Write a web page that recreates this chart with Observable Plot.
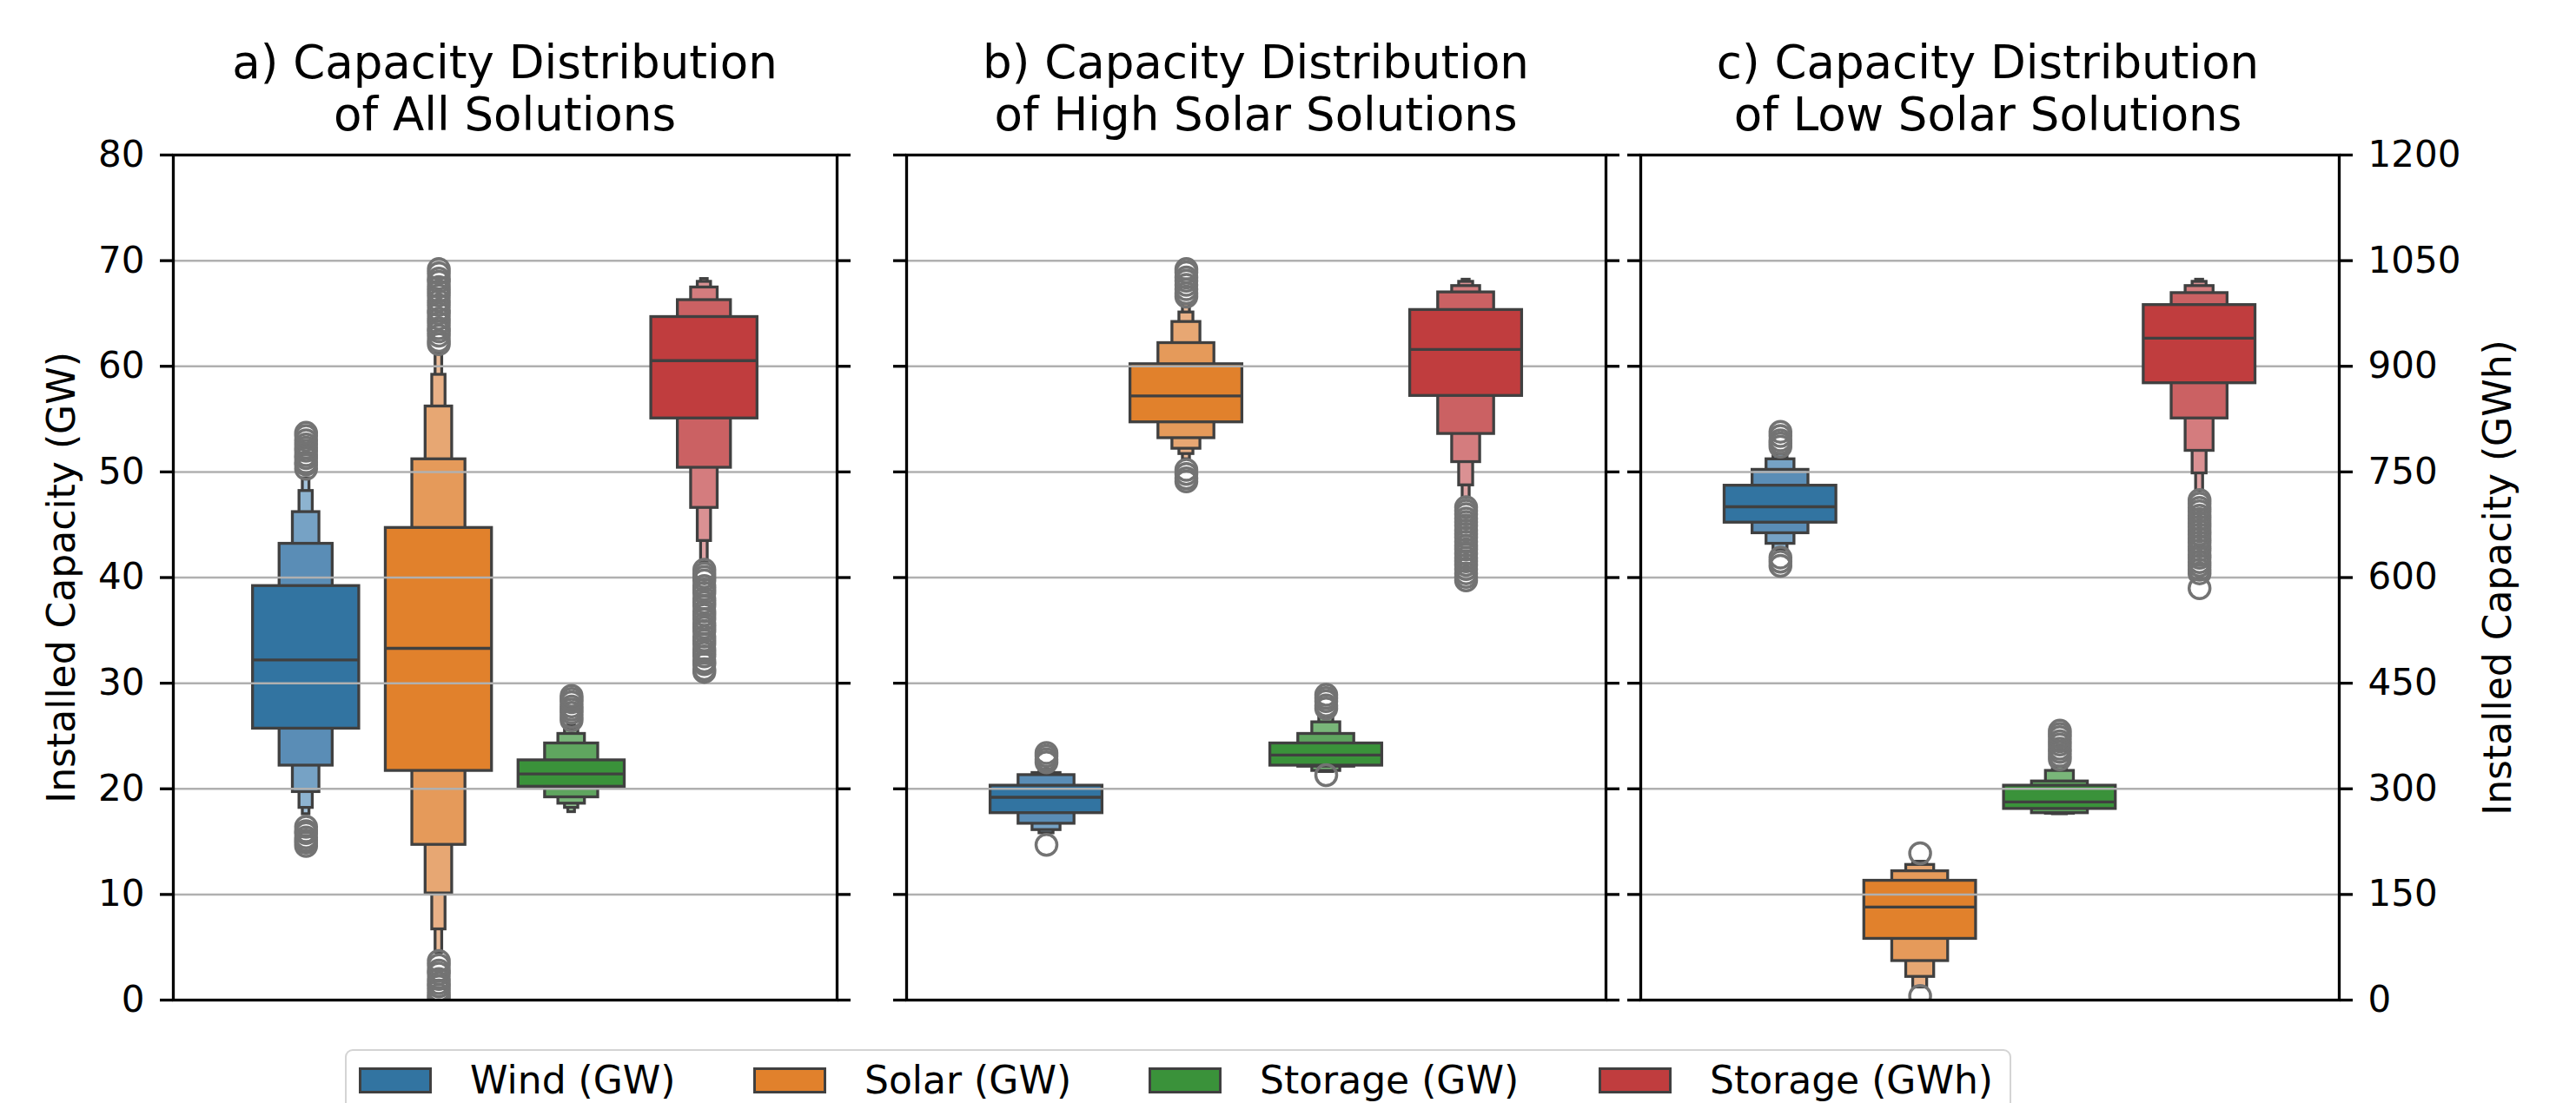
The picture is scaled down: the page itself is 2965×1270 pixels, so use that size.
<!DOCTYPE html>
<html>
<head>
<meta charset="utf-8">
<script src="https://cdn.jsdelivr.net/npm/d3@7"></script>
<script src="https://cdn.jsdelivr.net/npm/@observablehq/plot@0.6"></script>
<style>
  html, body { margin: 0; padding: 0; background: #fff; overflow: hidden; }
  #root { position: relative; width: 2965px; height: 1270px; font-family: "DejaVu Sans", sans-serif; color: #000; }
  .title { position: absolute; top: 42px; font-size: 53px; line-height: 60px; text-align: center; white-space: nowrap; transform: translateX(-50%); }
  .panel { position: absolute; top: 150px; }
  .ylab { position: absolute; font-size: 44px; white-space: nowrap; transform: translate(-50%, -50%) rotate(-90deg); }
  .legend { position: absolute; left: 397px; top: 1208px; width: 1918px; height: 100px; border: 2.5px solid #d4d4d4; border-radius: 9px; box-sizing: border-box; }
  .swatch { position: absolute; top: 1229px; width: 84px; height: 30px; border: 3px solid #404040; box-sizing: border-box; }
  .ltext { position: absolute; top: 1244px; font-size: 44px; line-height: 44px; transform: translateY(-50%); white-space: nowrap; }
</style>
</head>
<body>
<div id="root"></div>
<script>
// ---------- data ----------
const categories = ["Wind (GW)", "Solar (GW)", "Storage (GW)", "Storage (GWh)"];
const panelTitles = [
  ["a) Capacity Distribution", "of All Solutions"],
  ["b) Capacity Distribution", "of High Solar Solutions"],
  ["c) Capacity Distribution", "of Low Solar Solutions"]
];
const gwTicks = [0, 10, 20, 30, 40, 50, 60, 70, 80];
const gwhTicks = [0, 150, 300, 450, 600, 750, 900, 1050, 1200];
const gridTicks = [10, 20, 30, 40, 50, 60, 70];

// Panel a (wind, solar, storage GW in GW; storage GWh in GWh)
const mediansA = [32.2, 33.3, 21.4, 908];
const levelsA = [
  [[25.7, 39.2], [22.2, 43.2], [19.7, 46.2], [18.2, 48.2], [17.6, 49.4]],
  [[21.7, 44.7], [14.7, 51.2], [10.1, 56.2], [6.7, 59.2], [4.5, 61.2]],
  [[20.2, 22.7], [19.2, 24.3], [18.6, 25.2], [18.2, 25.7], [17.8, 26.0]],
  [[826, 970], [756, 994], [699, 1012], [652, 1020], [622, 1024]]
];
const outliersA = [
  [14.6, 14.9, 15.1, 15.4, 15.8, 16.0, 16.4, 50.3, 50.7, 50.9, 51.3, 51.6, 52.0, 52.3, 52.6, 53.0, 53.4, 53.7],
  [0.2, 0.5, 0.9, 1.3, 1.6, 2.0, 2.5, 2.8, 3.3, 3.7, 62.1, 62.4, 62.9, 63.3, 63.6, 64.1, 64.5, 65.0, 65.3, 65.8, 66.2, 66.7, 67.1, 67.5, 68.0, 68.3, 68.8, 69.2],
  [26.5, 26.8, 27.2, 27.5, 27.8, 28.2, 28.5, 28.8],
  [466, 470, 477, 481, 488, 493, 498, 506, 511, 516, 524, 529, 534, 541, 547, 552, 560, 565, 570, 578, 583, 588, 596, 601, 606, 611]
];

// Panel b
const mediansB = [19.2, 57.2, 23.2, 924];
const levelsB = [
  [[17.7, 20.3], [16.7, 21.3], [16.1, 21.5], [15.8, 21.8]],
  [[54.7, 60.2], [53.2, 62.2], [52.2, 64.2], [51.7, 65.1], [51.2, 65.9]],
  [[22.2, 24.3], [22.1, 25.2], [21.7, 26.3], [21.6, 26.8]],
  [[858, 980], [804, 1005], [764, 1014], [731, 1020], [713, 1023]]
];
const outliersB = [
  [14.7, 22.5, 22.8, 23.1, 23.4],
  [49.1, 49.4, 49.8, 50.2, 66.6, 66.9, 67.3, 67.7, 68.1, 68.4, 68.9, 69.2],
  [21.3, 27.6, 27.9, 28.3, 28.6, 28.9],
  [596, 601, 606, 612, 618, 623, 628, 634, 640, 645, 651, 657, 662, 667, 674, 679, 684, 690, 695, 700]
];

// Panel c
const mediansC = [46.7, 8.8, 18.75, 940];
const levelsC = [
  [[45.2, 48.7], [44.2, 50.2], [43.2, 51.2], [42.6, 51.7]],
  [[5.8, 11.3], [3.7, 12.2], [2.2, 12.8], [1.2, 13.1]],
  [[18.1, 20.3], [17.7, 20.7], [17.65, 21.7], [17.6, 22.1]],
  [[876, 987], [826, 1004], [780, 1014], [748, 1020], [723, 1023]]
];
const outliersC = [
  [41.1, 41.5, 41.9, 52.4, 52.7, 53.0, 53.4, 53.8],
  [0.4, 13.9],
  [22.8, 23.1, 23.5, 23.8, 24.2, 24.5, 24.9, 25.2, 25.5],
  [585, 606, 611, 617, 622, 628, 632, 639, 644, 650, 655, 661, 666, 672, 677, 683, 688, 694, 699, 705, 710]
];

// ---------- styles ----------
const mainColors = ["#3274a1", "#e1812c", "#3a923a", "#c03d3e"];
const levelColors = [
  ["#3274a1", "#5a8db6", "#76a2c5", "#8db3d0", "#a3c2da"],
  ["#e1812c", "#e59a5a", "#e7a773", "#e9b187", "#ebbb98"],
  ["#3a923a", "#5fa55f", "#79b679", "#90c290", "#a5cea5"],
  ["#c03d3e", "#cb6163", "#d47c7e", "#da9193", "#e0a4a5"]
];
const GWH_PER_GW = 15;

const root = document.getElementById("root");

function makePanel(cfg) {
  const { levels, medians, outliers, left, width, mL, mR, leftLabels, rightLabels } = cfg;
  const boxes = [];
  levels.forEach((lv, i) => lv.forEach(([lo, hi], k) => boxes.push({ i, k, lo, hi, twin: i === 3 })));
  boxes.sort((a, b) => b.k - a.k);
  const meds = medians.map((m, i) => ({ i, m, twin: i === 3 }));
  const outs = outliers.flatMap((arr, i) => arr.map(v => ({ i, v, twin: i === 3 })));
  const Y = (v, twin) => (twin ? v / GWH_PER_GW : v);
  const half = d => 0.4 * Math.pow(0.5, d.k);

  const boxMarks = f => [
    Plot.rect(boxes.filter(f), {
      x1: d => d.i - half(d), x2: d => d.i + half(d),
      y1: d => Y(d.lo, d.twin), y2: d => Y(d.hi, d.twin),
      fill: d => levelColors[d.i][d.k], stroke: "#404040", strokeWidth: 3.3
    }),
    Plot.ruleY(meds.filter(f), {
      y: d => Y(d.m, d.twin), x1: d => d.i - 0.4, x2: d => d.i + 0.4,
      stroke: "#404040", strokeWidth: 3.3
    })
  ];

  const height = 1030;
  const chart = Plot.plot({
    width, height,
    marginLeft: mL, marginRight: mR, marginTop: 28, marginBottom: 29,
    style: { fontFamily: "DejaVu Sans, sans-serif", fontSize: "42px", background: "transparent", overflow: "visible" },
    x: { domain: [-1, 4], axis: null },
    y: { domain: [0, 80] },
    color: { type: "identity" },
    marks: [
      ...boxMarks(d => !d.twin),
      Plot.gridY({ ticks: gridTicks, stroke: "#b0b0b0", strokeOpacity: 1, strokeWidth: 2.5 }),
      ...boxMarks(d => d.twin),
      Plot.dot(outs, { x: "i", y: d => Y(d.v, d.twin), r: 12, stroke: "#737373", strokeWidth: 3.5, fill: "none", clip: true }),
      Plot.frame({ stroke: "#000", strokeWidth: 3.3 }),
      Plot.axisY({ ticks: gwTicks, anchor: "left", tickSize: 15, tickPadding: 18, strokeWidth: 3.3, fontSize: 42, label: null,
        tickFormat: leftLabels ? d => String(d) : () => "" }),
      Plot.axisY({ ticks: gwhTicks.map(v => v / GWH_PER_GW), anchor: "right", tickSize: 15, tickPadding: 18, strokeWidth: 3.3, fontSize: 42, label: null,
        tickFormat: rightLabels ? d => String(Math.round(d * GWH_PER_GW)) : () => "" })
    ]
  });
  const holder = document.createElement("div");
  holder.className = "panel";
  holder.style.left = left + "px";
  holder.appendChild(chart);
  root.appendChild(holder);
}

makePanel({ levels: levelsA, medians: mediansA, outliers: outliersA, left: 0, width: 1000, mL: 199, mR: 37, leftLabels: true, rightLabels: false });
makePanel({ levels: levelsB, medians: mediansB, outliers: outliersB, left: 1000, width: 870, mL: 43, mR: 22, leftLabels: false, rightLabels: false });
makePanel({ levels: levelsC, medians: mediansC, outliers: outliersC, left: 1870, width: 1095, mL: 18, mR: 273, leftLabels: false, rightLabels: true });

// titles
const titleCenters = [581, 1445.5, 2288];
panelTitles.forEach((t, j) => {
  const d = document.createElement("div");
  d.className = "title";
  d.style.left = titleCenters[j] + "px";
  d.innerHTML = t.join("<br>");
  root.appendChild(d);
});

// axis labels
const yl = document.createElement("div");
yl.className = "ylab"; yl.style.left = "70px"; yl.style.top = "665px";
yl.textContent = "Installed Capacity (GW)";
root.appendChild(yl);
const yr = document.createElement("div");
yr.className = "ylab"; yr.style.left = "2874px"; yr.style.top = "665px";
yr.textContent = "Installed Capacity (GWh)";
root.appendChild(yr);

// legend
const lg = document.createElement("div");
lg.className = "legend";
root.appendChild(lg);
const swatchX = [413, 867, 1322, 1840];
const textX = [541, 995, 1450, 1968];
categories.forEach((c, i) => {
  const s = document.createElement("div");
  s.className = "swatch"; s.style.left = swatchX[i] + "px"; s.style.background = mainColors[i];
  root.appendChild(s);
  const t = document.createElement("div");
  t.className = "ltext"; t.style.left = textX[i] + "px"; t.textContent = c;
  root.appendChild(t);
});
</script>
</body>
</html>
